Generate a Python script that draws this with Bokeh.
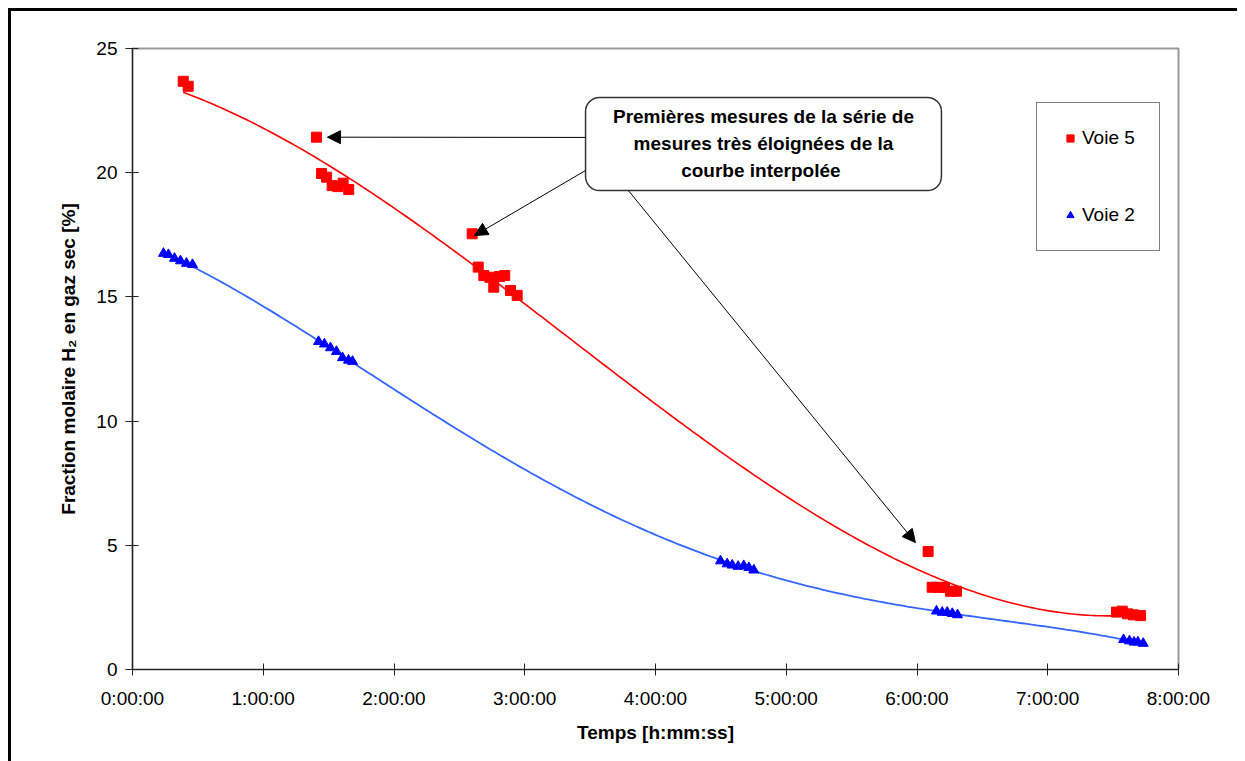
import numpy as np
from bokeh.plotting import figure
from bokeh.models import (FixedTicker, Legend, LegendItem, Arrow, NormalHead,
                          BoxAnnotation, Label)
from bokeh.embed import file_html
from bokeh.resources import INLINE

# ---------------- data (time in hours, H2 fraction in %) ----------------
voie5_t = [0.388, 0.426, 1.407, 1.446, 1.484, 1.527, 1.570, 1.611, 1.654,
           2.598, 2.644, 2.687, 2.733, 2.763, 2.807, 2.847, 2.891, 2.942,
           6.085, 6.116, 6.164, 6.210, 6.256, 6.302,
           7.526, 7.570, 7.610, 7.656, 7.710]
voie5_v = [23.68, 23.48, 21.43, 19.97, 19.82, 19.48, 19.44, 19.58, 19.32,
           17.54, 16.20, 15.86, 15.79, 15.39, 15.82, 15.86, 15.26, 15.06,
           4.75, 3.31, 3.31, 3.30, 3.15, 3.15,
           2.31, 2.35, 2.24, 2.20, 2.17]

voie2_t = [0.237, 0.275, 0.321, 0.367, 0.413, 0.459,
           1.423, 1.468, 1.514, 1.560, 1.606, 1.652, 1.683,
           4.497, 4.548, 4.587, 4.632, 4.675, 4.714, 4.752,
           6.149, 6.193, 6.231, 6.270, 6.310,
           7.580, 7.625, 7.660, 7.690, 7.730]
voie2_v = [16.75, 16.70, 16.55, 16.45, 16.35, 16.30,
           13.20, 13.10, 12.95, 12.80, 12.55, 12.45, 12.40,
           4.37, 4.25, 4.20, 4.15, 4.18, 4.10, 4.00,
           2.35, 2.30, 2.30, 2.25, 2.20,
           1.20, 1.15, 1.10, 1.10, 1.05]

x_ticks = [0, 1, 2, 3, 4, 5, 6, 7, 8]
x_tick_labels = ["0:00:00", "1:00:00", "2:00:00", "3:00:00", "4:00:00",
                 "5:00:00", "6:00:00", "7:00:00", "8:00:00"]
y_ticks = [0, 5, 10, 15, 20, 25]

series_names = ["Voie 5", "Voie 2"]
note_lines = ["Premières mesures de la série de",
              "mesures très éloignées de la",
              "courbe  interpolée"]

FONT = "Liberation Sans"
TREND_DEGREE_5 = 3
TREND_DEGREE_2 = 4

# ---------------- polynomial trend lines (as the spreadsheet does) ------
def trend(t, v, deg):
    c = np.polyfit(t, v, deg)
    tt = np.linspace(min(t), max(t), 300)
    return tt, np.polyval(c, tt)

t5_fit, v5_fit = trend(voie5_t, voie5_v, TREND_DEGREE_5)
t2_fit, v2_fit = trend(voie2_t, voie2_v, TREND_DEGREE_2)

# ---------------- figure ----------------
p = figure(frame_width=1046, frame_height=621,
           x_range=(0, 8), y_range=(0, 25),
           output_backend="svg", toolbar_location=None,
           min_border_left=121, min_border_right=59,
           min_border_top=37, min_border_bottom=92)
p.styles = {"margin-left": "8px", "margin-top": "8px",
            "border-left": "3px solid black", "border-top": "3px solid black"}
p.background_fill_color = "white"
p.border_fill_color = "white"
p.outline_line_color = "#999999"
p.outline_line_width = 2
p.xgrid.visible = False
p.ygrid.visible = False

# trend lines
p.line(t5_fit, v5_fit, line_color="#FF0000", line_width=1.6)
p.line(t2_fit, v2_fit, line_color="#3366FF", line_width=1.8)

# markers
r5 = p.scatter(voie5_t, voie5_v, marker="square", size=10,
               fill_color="#FF0000", line_color="#FF0000")
r2 = p.scatter(voie2_t, voie2_v, marker="triangle", size=10,
               fill_color="#0000FF", line_color="#0000FF")

legend = Legend(items=[LegendItem(label=series_names[0], renderers=[r5]),
                       LegendItem(label=series_names[1], renderers=[r2])],
                location=(904, 418),
                padding=24, spacing=55,
                glyph_width=18, glyph_height=20, label_height=20,
                label_standoff=3,
                label_text_font=FONT, label_text_font_size="19px",
                label_text_color="black", label_text_baseline="middle",
                border_line_color="black", border_line_width=1,
                background_fill_color="white", background_fill_alpha=1)
p.add_layout(legend, "center")

# axes
for ax in (p.xaxis, p.yaxis):
    ax.axis_line_color = "#222222"
    ax.axis_line_width = 1.2
    ax.major_tick_line_color = "#222222"
    ax.major_tick_line_width = 1
    ax.minor_tick_line_color = None
    ax.major_label_text_font = FONT
    ax.major_label_text_font_size = "19px"
    ax.major_label_text_color = "black"
    ax.axis_label_text_font = FONT
    ax.axis_label_text_font_size = "19px"
    ax.axis_label_text_font_style = "bold"
    ax.axis_label_text_color = "black"

p.xaxis.ticker = FixedTicker(ticks=x_ticks)
p.xaxis.major_label_overrides = {t: lab for t, lab in zip(x_ticks, x_tick_labels)}
p.xaxis.major_tick_in = 6
p.xaxis.major_tick_out = 6
p.xaxis.major_label_standoff = 12
p.xaxis.axis_label = "Temps [h:mm:ss]"
p.xaxis.axis_label_standoff = 10

p.yaxis.ticker = FixedTicker(ticks=y_ticks)
p.yaxis.major_tick_in = 6
p.yaxis.major_tick_out = 7
p.yaxis.major_label_standoff = 8
p.yaxis.axis_label = "Fraction molaire H\u2082 en gaz sec [%]"
p.yaxis.axis_label_standoff = 14

# callout box
box = BoxAnnotation(left=3.465, right=6.187, top=23.03, bottom=19.28,
                    fill_color="white", fill_alpha=1,
                    line_color="#333333", line_width=1.5, line_alpha=1,
                    border_radius=14)
p.add_layout(box)

note_x = 4.826
note_y = [22.26, 21.18, 20.09]
for txt, yy in zip(note_lines, note_y):
    p.add_layout(Label(x=note_x, y=yy, text=txt, text_align="center",
                       text_baseline="middle", text_font=FONT,
                       text_font_size="19px", text_font_style="bold",
                       text_color="black"))

# arrows pointing at the outlying first measurements
arrows = [(3.465, 21.42, 1.491, 21.43),
          (3.465, 20.09, 2.616, 17.47),
          (3.793, 19.28, 5.988, 5.11)]
for xs, ys, xe, ye in arrows:
    p.add_layout(Arrow(end=NormalHead(size=13, fill_color="black",
                                      line_color="black", line_width=1),
                       x_start=xs, y_start=ys, x_end=xe, y_end=ye,
                       line_color="black", line_width=1))

open("out.html", "w").write(file_html(p, INLINE))
